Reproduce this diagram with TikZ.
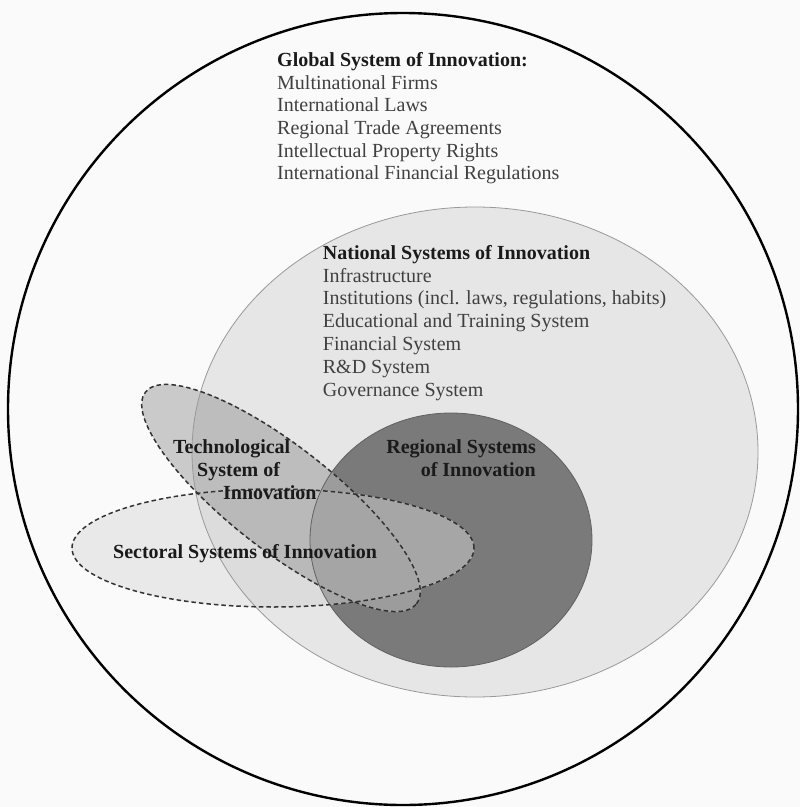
\documentclass[tikz,border=0pt]{standalone}
\usepackage{fontspec}
\setmainfont{Liberation Serif}
\definecolor{bgc}{HTML}{FAFAFA}
\definecolor{natc}{HTML}{E6E6E6}
\definecolor{regc}{HTML}{7A7A7A}
\definecolor{techbg}{HTML}{CACACA}
\definecolor{technat}{HTML}{BDBDBD}
\definecolor{techreg}{HTML}{9C9C9C}
\definecolor{secbg}{HTML}{E9E9E9}
\definecolor{secnat}{HTML}{DCDCDC}
\definecolor{secreg}{HTML}{A6A6A6}
\definecolor{bothbg}{HTML}{C6C6C6}
\definecolor{bothnat}{HTML}{B9B9B9}
\definecolor{bothreg}{HTML}{A5A5A5}
\definecolor{itemc}{HTML}{404040}
\definecolor{titlec}{HTML}{1A1A1A}
\newcommand\shN{(475,452) ellipse [x radius=283pt, y radius=245pt]}
\newcommand\shR{(451,540) ellipse [x radius=141pt, y radius=127pt]}
\newcommand\shS{(273,548) ellipse [x radius=201pt, y radius=59pt]}
\newcommand\shT{(281,498) ellipse [x radius=172pt, y radius=52pt]}
\begin{document}
\begin{tikzpicture}[x=1pt,y=-1pt,
  trot/.style={rotate around={-38:(281,498)}},
  title/.style={font=\bfseries\fontsize{20}{23}\selectfont, text=titlec, inner sep=0pt, anchor=base west},
  item/.style={font=\fontsize{20}{23}\selectfont, text=itemc, inner sep=0pt, anchor=base west},
  inlabel/.style={font=\bfseries\fontsize{20}{23}\selectfont, text=titlec, inner sep=0pt},
  dashline/.style={draw=black!80, line width=1.5pt, dash pattern=on 4.5pt off 3pt}]
\useasboundingbox (0,0) rectangle (800,807);
\fill[bgc] (0,0) rectangle (800,807);
% national
\fill[natc] \shN;
% regional
\fill[regc] \shR;
% technological
\fill[techbg, trot] \shT;
\begin{scope}
  \clip \shN;
  \fill[technat, trot] \shT;
\end{scope}
\begin{scope}
  \clip \shR;
  \fill[techreg, trot] \shT;
\end{scope}
% sectoral
\fill[secbg] \shS;
\begin{scope}
  \clip \shN;
  \fill[secnat] \shS;
\end{scope}
\begin{scope}
  \clip \shR;
  \fill[secreg] \shS;
\end{scope}
\begin{scope}
  \clip[trot] \shT;
  \fill[bothbg] \shS;
  \begin{scope}
    \clip \shN;
    \fill[bothnat] \shS;
  \end{scope}
  \begin{scope}
    \clip \shR;
    \fill[bothreg] \shS;
  \end{scope}
\end{scope}
% borders
\draw[black!40, line width=0.8pt] \shN;
\draw[black!62, line width=0.8pt] \shR;
\draw[dashline, trot] \shT;
\draw[dashline] \shS;
% outer
\draw[black, line width=2.4pt] (403,409) ellipse [x radius=395pt, y radius=396pt];
% global texts
\node[title] (g0) at (277,66.6) {Global System of Innovation:};
\node[item] (g1) at (277,89.2) {Multinational Firms};
\node[item] (g2) at (277,111.8) {International Laws};
\node[item] (g3) at (277,134.4) {Regional Trade Agreements};
\node[item] (g4) at (277,157.0) {Intellectual Property Rights};
\node[item] (g5) at (277,179.6) {International Financial Regulations};
% national texts
\node[title] (n0) at (322.7,259.3) {National Systems of Innovation};
\node[item] (n1) at (322.7,282.1) {Infrastructure};
\node[item] (n2) at (322.7,304.9) {Institutions (incl. laws, regulations, habits)};
\node[item] (n3) at (322.7,327.6) {Educational and Training System};
\node[item] (n4) at (322.7,350.4) {Financial System};
\node[item] (n5) at (322.7,373.2) {R\&D System};
\node[item] (n6) at (322.7,396.0) {Governance System};
% technological
\node[inlabel, anchor=base west] (t1) at (173,453.3) {Technological};
\node[inlabel, anchor=base west] (t2) at (197,476.6) {System of};
\node[inlabel, anchor=base west] (t3) at (223,499.6) {Innovation};
% regional
\node[inlabel, anchor=base east] (r1) at (536,453.3) {Regional Systems};
\node[inlabel, anchor=base east] (r2) at (536,476.6) {of Innovation};
% sectoral
\node[inlabel, anchor=base west] (s1) at (113,558.3) {Sectoral Systems of Innovation};
\end{tikzpicture}
\end{document}
